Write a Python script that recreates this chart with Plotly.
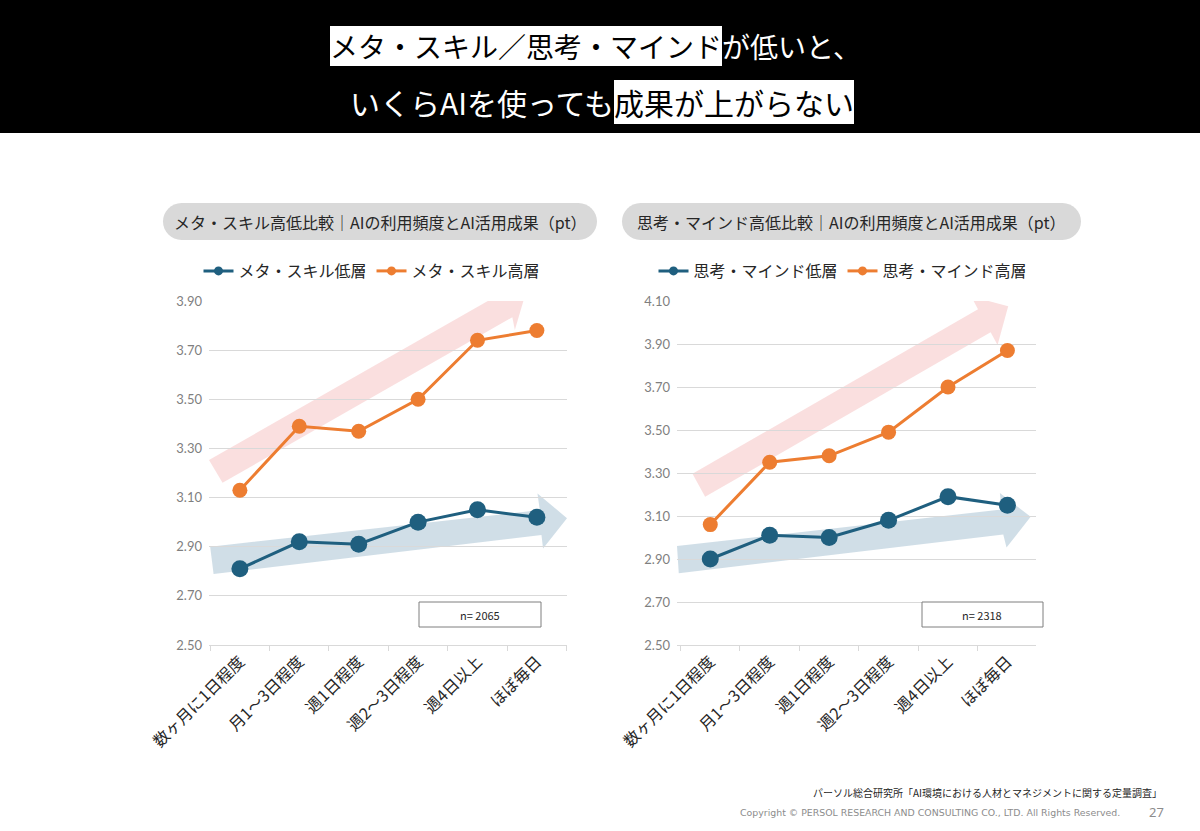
"""
AI utilisation frequency vs. AI outcome, split by meta-skill / mindset level.
"""

import plotly.graph_objects as go

W, H = 1200, 831

categories = ["数ヶ月に1日程度", "月1～3日程度", "週1日程度", "週2～3日程度", "週4日以上", "ほぼ毎日"]

meta_low = [2.81, 2.92, 2.91, 3.00, 3.05, 3.02]
meta_high = [3.13, 3.39, 3.37, 3.50, 3.74, 3.78]
mind_low = [2.90, 3.01, 3.00, 3.08, 3.19, 3.15]
mind_high = [3.06, 3.35, 3.38, 3.49, 3.70, 3.87]

meta_names = ["メタ・スキル低層", "メタ・スキル高層"]
mind_names = ["思考・マインド低層", "思考・マインド高層"]
panel_titles = [
    "メタ・スキル高低比較｜AIの利用頻度とAI活用成果（pt）",
    "思考・マインド高低比較｜AIの利用頻度とAI活用成果（pt）",
]
sample_sizes = ["n= 2065", "n= 2318"]

BLUE = "#1F5F7F"
ORANGE = "#ED7D31"
PINK_ARROW = "rgba(241,170,170,0.38)"
BLUE_ARROW = "rgba(120,160,185,0.35)"
GRID = "#D9D9D9"
JP = "Noto Sans CJK JP, sans-serif"


def px(x, y):
    """Pixel position -> paper fractions."""
    return x / W, 1 - y / H


def pill_path(x0, y0, x1, y1):
    """Rounded (stadium) rectangle in paper coordinates."""
    r = (y1 - y0) / 2
    k = 0.5523 * r
    ym = (y0 + y1) / 2
    pts = [
        ("M", [(x0 + r, y0)]),
        ("L", [(x1 - r, y0)]),
        ("C", [(x1 - r + k, y0), (x1, ym - k), (x1, ym)]),
        ("C", [(x1, ym + k), (x1 - r + k, y1), (x1 - r, y1)]),
        ("L", [(x0 + r, y1)]),
        ("C", [(x0 + r - k, y1), (x0, ym + k), (x0, ym)]),
        ("C", [(x0, ym - k), (x0 + r - k, y0), (x0 + r, y0)]),
    ]
    out = ""
    for cmd, coords in pts:
        out += cmd + " ".join("%.5f,%.5f" % px(x, y) for x, y in coords) + " "
    return out + "Z"


def poly_path(points):
    return "M" + " L".join("%.3f,%.3f" % p for p in points) + " Z"


# decorative trend arrows (data coordinates: category index, value)
arrows = [
    ("x", "y", PINK_ARROW, [(-0.52, 3.253), (4.362, 3.926), (4.322, 3.979), (4.814, 3.934),
                            (4.629, 3.782), (4.587, 3.834), (-0.292, 3.160)]),
    ("x", "y", BLUE_ARROW, [(-0.5, 2.900), (5.049, 3.049), (5.010, 3.117), (5.507, 3.016),
                            (5.104, 2.893), (5.077, 2.948), (-0.443, 2.789)]),
    ("x2", "y2", PINK_ARROW, [(-0.299, 3.296), (4.505, 4.062), (4.388, 4.122), (5.013, 4.075),
                              (4.834, 3.895), (4.717, 3.955), (-0.087, 3.189)]),
    ("x2", "y2", BLUE_ARROW, [(-0.56, 2.960), (4.901, 3.130), (4.873, 3.207), (5.391, 3.096),
                              (4.985, 2.953), (4.930, 3.014), (-0.53, 2.834)]),
]

fig = go.Figure()

series = [
    (meta_low, meta_names[0], BLUE, 17, "x", "y", "legend"),
    (meta_high, meta_names[1], ORANGE, 15, "x", "y", "legend"),
    (mind_low, mind_names[0], BLUE, 17, "x2", "y2", "legend2"),
    (mind_high, mind_names[1], ORANGE, 15, "x2", "y2", "legend2"),
]
for vals, name, color, size, xa, ya, lg in series:
    fig.add_trace(go.Scatter(
        x=categories, y=vals, name=name, mode="lines+markers",
        line=dict(color=color, width=3), marker=dict(color=color, size=size),
        xaxis=xa, yaxis=ya, showlegend=False, hoverinfo="x+y+name",
    ))
    # small-marker stand-in so the legend key looks like the original
    fig.add_trace(go.Scatter(
        x=[None], y=[None], name=name, mode="lines+markers",
        line=dict(color=color, width=3), marker=dict(color=color, size=9),
        xaxis=xa, yaxis=ya, legend=lg, hoverinfo="skip",
    ))

shapes = [
    # black header band
    dict(type="rect", xref="paper", yref="paper", x0=0, x1=1, y0=px(0, 133)[1], y1=1,
         fillcolor="black", line_width=0, layer="below"),
    dict(type="path", xref="paper", yref="paper", path=pill_path(163, 203, 597, 240),
         fillcolor="#D9D9D9", line_width=0, layer="below"),
    dict(type="path", xref="paper", yref="paper", path=pill_path(622, 203, 1081, 240),
         fillcolor="#D9D9D9", line_width=0, layer="below"),
]
for xa, ya, color, pts in arrows:
    shapes.append(dict(type="path", xref=xa, yref=ya, path=poly_path(pts),
                       fillcolor=color, line_width=0, layer="below"))

# n= boxes
for (bx0, bx1), label in zip([(419, 541), (922, 1043)], sample_sizes):
    x0, y0 = px(bx0, 627)
    x1, y1 = px(bx1, 602)
    shapes.append(dict(type="rect", xref="paper", yref="paper", x0=x0, x1=x1, y0=y0, y1=y1,
                       line=dict(color="#7F7F7F", width=1), fillcolor="white"))

annotations = []


def note(text, x, y, size, color="#262626", xanchor="center", bg=None, family=JP):
    fx, fy = px(x, y)
    a = dict(text=text, x=fx, y=fy, xref="paper", yref="paper", showarrow=False,
             xanchor=xanchor, yanchor="middle", font=dict(family=family, size=size, color=color),
             borderpad=0, borderwidth=0)
    if bg:
        a["bgcolor"] = bg
    annotations.append(a)


# headline with highlighted phrases
note("メタ・スキル／思考・マインド", 722, 46, 28, "black", "right", "white")
note("が低いと、", 722, 46, 28, "white", "left")
note("いくらAIを使っても", 614, 102, 30, "white", "right")
note("成果が上がらない", 614, 102, 30, "black", "left", "white")

note(panel_titles[0], 380, 222, 16)
note(panel_titles[1], 851, 222, 16)

note(sample_sizes[0], 480, 615, 11)
note(sample_sizes[1], 982, 615, 11)

note("パーソル総合研究所「AI環境における人材とマネジメントに関する定量調査」", 1162, 792, 10, "#262626", "right")
note("Copyright © PERSOL RESEARCH AND CONSULTING CO., LTD. All Rights Reserved.", 1120, 812, 9.4,
     "#8C8C8C", "right", family="Verdana, DejaVu Sans, sans-serif")
note("27", 1164, 812, 13, "#8C8C8C", "right", family="Noto Sans, sans-serif")

legend_style = dict(orientation="h", xanchor="center", yanchor="middle", y=px(0, 271)[1],
                    font=dict(size=16, color="#262626"), itemwidth=30, bgcolor="rgba(0,0,0,0)")

fig.update_layout(
    width=W, height=H, margin=dict(l=0, r=0, t=0, b=0, pad=0, autoexpand=False),
    paper_bgcolor="white", plot_bgcolor="white",
    font=dict(family=JP, color="#262626"),
    shapes=shapes, annotations=annotations,
    legend=dict(x=372 / W, **legend_style),
    legend2=dict(x=843 / W, **legend_style),
)

xaxis_style = dict(
    type="category", tickson="boundaries", ticks="outside", ticklen=5, tickcolor=GRID,
    showline=True, linecolor=GRID, showgrid=False, tickangle=-45, automargin=False,
    tickfont=dict(size=16, color="#262626"), fixedrange=True,
)
yaxis_style = dict(
    tick0=2.5, dtick=0.2, tickformat=".2f", showgrid=True, gridcolor=GRID, zeroline=False,
    tickfont=dict(size=13, color="#7F7F7F", family="Lato, Noto Sans, sans-serif"),
    ticklabelstandoff=6, fixedrange=True, automargin=False,
)
y_dom = [1 - 645 / H, 1 - 301 / H]
fig.update_layout(
    xaxis=dict(domain=[209 / W, 567 / W], anchor="y", **xaxis_style),
    yaxis=dict(domain=y_dom, anchor="x", range=[2.5, 3.9], **yaxis_style),
    xaxis2=dict(domain=[677 / W, 1036 / W], anchor="y2", **xaxis_style),
    yaxis2=dict(domain=y_dom, anchor="x2", range=[2.5, 4.1], **yaxis_style),
)

fig.write_html("out.html", config={"displayModeBar": False},
               post_script="document.body.style.margin='0';")
